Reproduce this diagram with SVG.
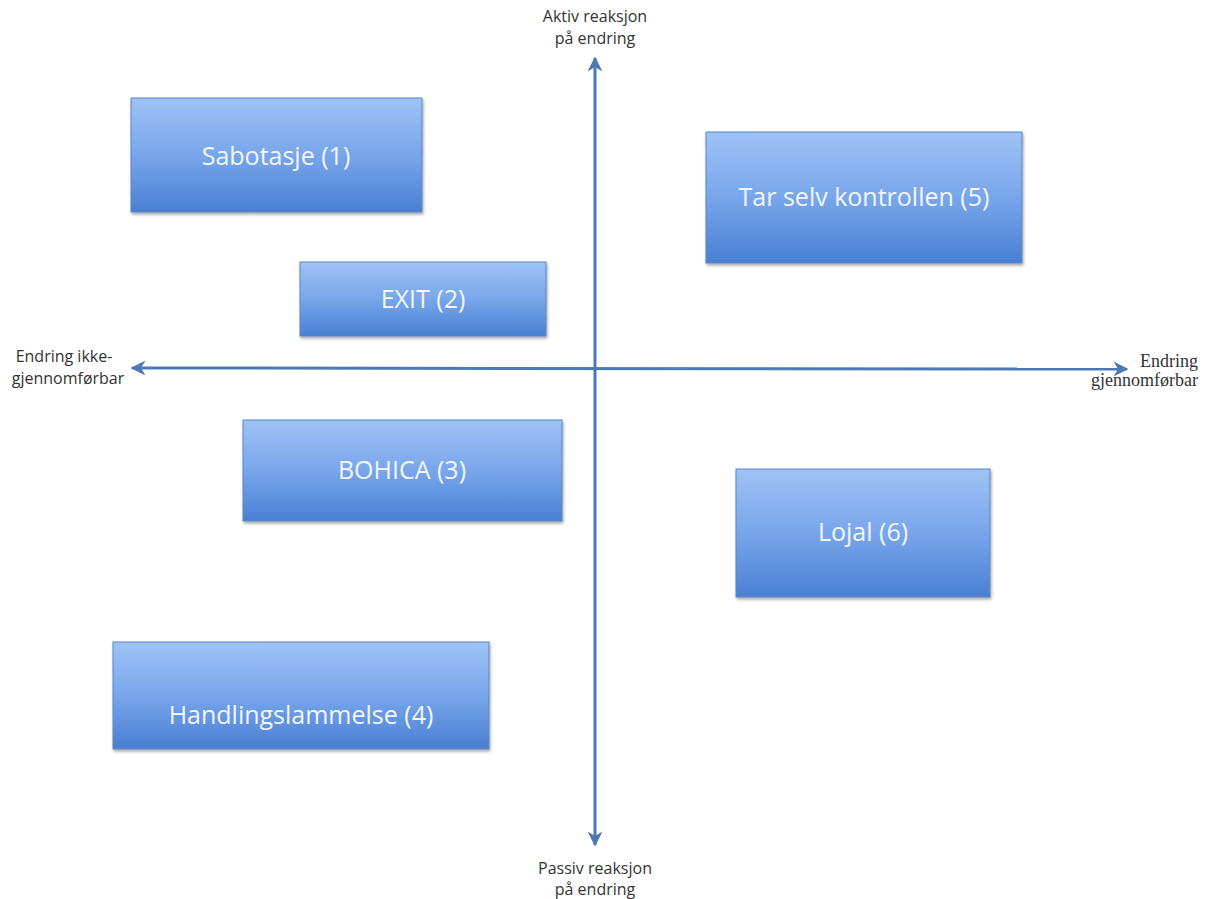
<svg xmlns="http://www.w3.org/2000/svg" width="1208" height="899" viewBox="0 0 1208 899">
<style>
.box{fill:url(#g);stroke:#5a86c4;stroke-width:1}
.lbl{font-family:"Open Sans","Liberation Sans",sans-serif;font-size:25px;fill:#f2f6fd;text-anchor:middle;dominant-baseline:middle}
.ax{font-family:"Open Sans","Liberation Sans",sans-serif;font-size:16px;fill:#333;text-anchor:middle}
.axs{font-family:"Liberation Serif",serif;font-size:18px;fill:#333;text-anchor:end}
.axl{stroke:#4d79b2;stroke-width:3;fill:none}
</style>
<defs>
<linearGradient id="g" x1="0" y1="0" x2="0" y2="1">
<stop offset="0" stop-color="#9ec3f5"/>
<stop offset="0.5" stop-color="#78a6eb"/>
<stop offset="1" stop-color="#4a7fd2"/>
</linearGradient>
<filter id="sh" x="-5%" y="-5%" width="115%" height="120%">
<feDropShadow dx="1" dy="2" stdDeviation="1.5" flood-color="#000" flood-opacity="0.35"/>
</filter>
<marker id="ah" viewBox="0 0 10 10" refX="9" refY="5" markerWidth="5" markerHeight="5" orient="auto-start-reverse">
<path d="M0,0 L10,5 L0,10 L3,5 z" fill="#4d79b2"/>
</marker>
</defs>
<rect width="1208" height="899" fill="#fff"/>
<g id="connectors">
<line class="axl" x1="595" y1="845" x2="595" y2="58" marker-start="url(#ah)" marker-end="url(#ah)"/>
<line class="axl" x1="132" y1="368" x2="1127" y2="369" marker-start="url(#ah)" marker-end="url(#ah)"/>
</g>
<g id="label-top">
<text class="ax" x="595" y="22">Aktiv reaksjon</text>
<text class="ax" x="595" y="44">på endring</text>
</g>
<g id="label-bottom">
<text class="ax" x="595" y="874">Passiv reaksjon</text>
<text class="ax" x="595" y="895">på endring</text>
</g>
<g id="label-left">
<text class="ax" x="64" y="362">Endring ikke-</text>
<text class="ax" x="68" y="384">gjennomførbar</text>
</g>
<g id="label-right">
<text class="axs" x="1198" y="367">Endring</text>
<text class="axs" x="1198" y="386">gjennomførbar</text>
</g>
<g id="n1"><rect class="box" filter="url(#sh)" x="131" y="98" width="291" height="114"/><text class="lbl" x="276" y="158">Sabotasje (1)</text></g>
<g id="n2"><rect class="box" filter="url(#sh)" x="300" y="262" width="246" height="74"/><text class="lbl" x="423" y="301">EXIT (2)</text></g>
<g id="n3"><rect class="box" filter="url(#sh)" x="243" y="420" width="319" height="101"/><text class="lbl" x="402" y="472">BOHICA (3)</text></g>
<g id="n4"><rect class="box" filter="url(#sh)" x="113" y="642" width="376" height="107"/><text class="lbl" x="301" y="717">Handlingslammelse (4)</text></g>
<g id="n5"><rect class="box" filter="url(#sh)" x="706" y="132" width="316" height="131"/><text class="lbl" x="864" y="199">Tar selv kontrollen (5)</text></g>
<g id="n6"><rect class="box" filter="url(#sh)" x="736" y="469" width="254" height="128"/><text class="lbl" x="863" y="534">Lojal (6)</text></g>
</svg>
